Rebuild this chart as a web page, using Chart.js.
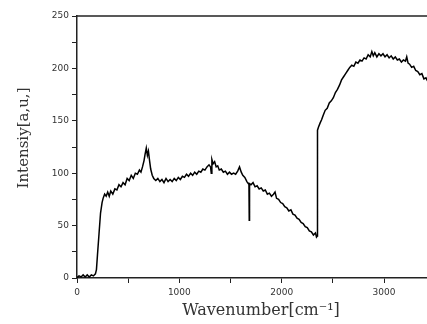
<!DOCTYPE html>
<html>
<head>
<meta charset="utf-8">
<script src="https://cdn.jsdelivr.net/npm/chart.js@4"></script>
<style>
  html, body { margin: 0; padding: 0; background: #fff; }
  #wrap { width: 427px; height: 324px; }
</style>
</head>
<body>
<div id="wrap"><canvas id="cht-spectrum"></canvas></div>
<script>
// wavenumber (cm-1) and intensity
var wavenumbers = [0, 20, 40, 60, 80, 100, 120, 140, 160, 180, 190, 200, 215, 230, 245, 255, 270, 285, 300, 315,
  330, 350, 370, 390, 410, 430, 450, 470, 490, 510, 530, 550, 570, 590, 610, 625, 640, 655, 665, 677,
  688, 698, 709, 720, 735, 750, 770, 790, 810, 830, 850, 870, 890, 910, 930, 950, 970, 990, 1010, 1030,
  1050, 1070, 1090, 1110, 1130, 1150, 1170, 1190, 1210, 1230, 1250, 1270, 1290, 1305, 1312, 1318, 1330, 1345, 1360, 1375,
  1390, 1410, 1430, 1450, 1470, 1490, 1510, 1530, 1550, 1570, 1588, 1605, 1620, 1640, 1660, 1675, 1680, 1683, 1686, 1700,
  1720, 1740, 1760, 1780, 1800, 1820, 1840, 1860, 1880, 1900, 1920, 1935, 1950, 1970, 1990, 2010, 2030, 2050, 2070, 2090,
  2110, 2130, 2150, 2170, 2190, 2210, 2230, 2250, 2270, 2290, 2310, 2330, 2340, 2348, 2350, 2360, 2376, 2390, 2405, 2425,
  2445, 2465, 2485, 2505, 2525, 2545, 2565, 2585, 2605, 2625, 2645, 2665, 2685, 2705, 2725, 2745, 2765, 2785, 2805, 2825,
  2845, 2865, 2881, 2895, 2910, 2930, 2950, 2970, 2990, 3010, 3030, 3050, 3070, 3090, 3110, 3130, 3150, 3170, 3190, 3210,
  3222, 3235, 3250, 3270, 3290, 3310, 3330, 3350, 3370, 3390, 3410, 3425];
var intensity = [0.5, 2, 1, 3, 1, 3, 1, 3, 2, 4, 8, 22, 42, 62, 72, 76, 80, 78, 82, 78,
  83, 80, 85, 84, 89, 87, 91, 89, 95, 93, 98, 95, 100, 99, 103, 101, 106, 112, 118, 124,
  117, 121, 112, 104, 98, 95, 93, 95, 92, 94, 91, 95, 92, 94, 92, 95, 93, 96, 94, 97,
  96, 99, 97, 100, 98, 101, 99, 102, 101, 104, 103, 106, 108, 106, 100, 113, 109, 111, 106, 107,
  103, 104, 101, 102, 99, 101, 99, 100, 99, 102, 106, 101, 98, 96, 92, 90, 91, 55, 90, 89,
  91, 87, 88, 85, 86, 83, 84, 80, 81, 78, 80, 82, 76, 75, 72, 71, 68, 67, 64, 65,
  61, 60, 57, 56, 53, 52, 49, 48, 45, 44, 41, 43, 39, 40, 141, 144, 148, 151, 155, 160,
  162, 167, 169, 172, 177, 180, 184, 189, 192, 195, 198, 201, 203, 202, 206, 205, 208, 207, 210, 209,
  213, 211, 216, 212, 215, 211, 214, 212, 214, 211, 213, 210, 212, 209, 211, 208, 209, 206, 208, 207,
  211, 205, 204, 201, 202, 198, 197, 194, 195, 190, 191, 188];
var xTickMarks = [0, 500, 1000, 1500, 2000, 2500, 3000];
var xTicks = [0, 1000, 2000, 3000];
var yTicks = [0, 50, 100, 150, 200, 250];
var xTitle = 'Wavenumber[cm\u207B\u00B9]';
var yTitle = 'Intensiy[a,u,]';

var points = [];
wavenumbers.forEach(function (w, i) { points.push({ x: w, y: intensity[i] }); });

// frame top line + axis titles placed like the original figure
var framePlugin = {
  id: 'frame',
  afterDraw: function (chart) {
    var ctx = chart.ctx, a = chart.chartArea;
    ctx.save();
    ctx.strokeStyle = '#222';
    ctx.lineWidth = 1.5;
    ctx.beginPath();
    ctx.moveTo(a.left, a.top);
    ctx.lineTo(a.right, a.top);
    ctx.stroke();
    ctx.fillStyle = '#333';
    ctx.textAlign = 'center';
    ctx.textBaseline = 'middle';
    ctx.font = '16px "DejaVu Serif"';
    ctx.fillText(xTitle, 261, 311);
    ctx.font = '15px "DejaVu Serif"';
    ctx.translate(24, 138);
    ctx.rotate(-Math.PI / 2);
    ctx.fillText(yTitle, 0, 0);
    ctx.restore();
  }
};

var chS = document.getElementById('cht-spectrum');
var chtSpectrum = new Chart(chS, {
  type: 'line',
  data: {
    datasets: [{
      data: points,
      borderColor: '#000',
      borderWidth: 1.5,
      pointRadius: 0,
      fill: false,
      tension: 0
    }]
  },
  options: {
    responsive: true,
    maintainAspectRatio: false,
    animation: false,
    layout: { padding: { top: 16, right: 0, left: 0, bottom: 0 } },
    plugins: { legend: { display: false }, tooltip: { enabled: false } },
    scales: {
      x: {
        type: 'linear',
        min: 0,
        max: 3420,
        afterBuildTicks: function (s) { s.ticks = xTickMarks.map(function (v) { return { value: v }; }); },
        afterFit: function (s) { s.height = 46; s.paddingLeft = 0; s.paddingRight = 0; },
        border: { color: '#222', width: 1.5 },
        grid: { drawOnChartArea: false, color: '#222', tickLength: 5 },
        ticks: {
          autoSkip: false,
          maxRotation: 0,
          padding: 4,
          color: '#333',
          font: { family: '"DejaVu Sans"', size: 9 },
          callback: function (v) { return xTicks.indexOf(v) > -1 ? String(v) : ''; }
        }
      },
      y: {
        min: 0,
        max: 250,
        afterFit: function (s) { s.width = 77; },
        border: { color: '#222', width: 1.5 },
        grid: { drawOnChartArea: false, color: '#222', tickLength: 5 },
        ticks: {
          stepSize: 25,
          autoSkip: false,
          padding: 3,
          color: '#333',
          font: { family: '"DejaVu Sans"', size: 9 },
          callback: function (v) { return yTicks.indexOf(v) > -1 ? String(v) : ''; }
        }
      }
    }
  },
  plugins: [framePlugin]
});
</script>
</body>
</html>
